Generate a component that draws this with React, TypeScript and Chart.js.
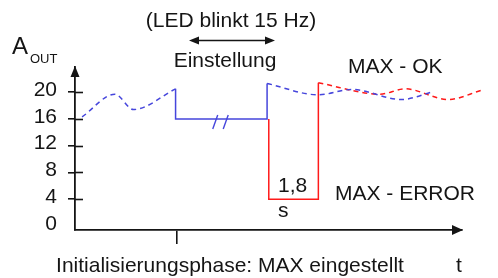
import { useEffect, useRef } from "react";
import { Chart, registerables } from "chart.js";

Chart.register(...registerables);

// ---- data (time in s, amplitude A_OUT) ----
const yTickValues = [0, 4, 8, 12, 16, 20];
const xTickValues = [3.6];

const blueDashA_t = [0.25, 1.41, 2.06, 3.55];
const blueDashA_y = [16.3, 19.7, 17.4, 20.5];

const blueSolid_t = [3.55, 3.55, 6.78, 6.78];
const blueSolid_y = [20.5, 16, 16, 21.3];

const blueDashB_t = [6.78, 8.59, 9.77, 11.53, 12.59];
const blueDashB_y = [21.3, 19.6, 20.4, 18.9, 20.0];

const redSolid_t = [6.84, 6.84, 8.59, 8.59];
const redSolid_y = [16, 4, 4, 21.4];

const redDash_t = [8.59, 10.77, 11.65, 13.17, 14.36];
const redDash_y = [21.4, 19.7, 20.5, 18.9, 20.3];

const breakMarks_t = [4.95, 5.32];
const breakMarks_y = 16;

const BLUE = "#4646dc";
const RED = "#ff1a1a";
const INK = "#151515";
const FONT = '"Liberation Sans", Arial, sans-serif';

const pts = (t: number[], y: number[]) => t.map((v, i) => ({ x: v, y: y[i] }));

const annotPlugin = {
  id: "annot",
  afterDraw(chart: any) {
    const ctx: CanvasRenderingContext2D = chart.ctx;
    const xs = chart.scales.x;
    const ys = chart.scales.y;
    const area = chart.chartArea;
    ctx.save();
    ctx.strokeStyle = INK;
    ctx.fillStyle = INK;
    ctx.lineWidth = 1.6;

    // inner part of y tick marks
    yTickValues.forEach((v) => {
      if (v === 0) return;
      const py = Math.round(ys.getPixelForValue(v)) + 0.5;
      ctx.beginPath();
      ctx.moveTo(area.left, py);
      ctx.lineTo(area.left + 8, py);
      ctx.stroke();
    });

    // y-axis arrow
    ctx.beginPath();
    ctx.moveTo(area.left, area.top - 1);
    ctx.lineTo(area.left - 4.5, area.top + 10);
    ctx.lineTo(area.left + 4.5, area.top + 10);
    ctx.closePath();
    ctx.fill();

    // x-axis arrow
    ctx.beginPath();
    ctx.moveTo(area.right + 1, area.bottom);
    ctx.lineTo(area.right - 10, area.bottom - 5);
    ctx.lineTo(area.right - 10, area.bottom + 5);
    ctx.closePath();
    ctx.fill();

    // break marks on the blue line
    ctx.strokeStyle = BLUE;
    ctx.lineWidth = 1.4;
    breakMarks_t.forEach((t) => {
      const px = xs.getPixelForValue(t);
      const py = ys.getPixelForValue(breakMarks_y);
      ctx.beginPath();
      ctx.moveTo(px - 2.5, py + 10);
      ctx.lineTo(px + 2.5, py - 4);
      ctx.stroke();
    });

    // double arrow "Einstellung"
    ctx.strokeStyle = INK;
    ctx.fillStyle = INK;
    ctx.lineWidth = 1.4;
    const ay = 40.5;
    const ax1 = 189;
    const ax2 = 275;
    ctx.beginPath();
    ctx.moveTo(ax1 + 6, ay);
    ctx.lineTo(ax2 - 6, ay);
    ctx.stroke();
    ctx.beginPath();
    ctx.moveTo(ax1, ay);
    ctx.lineTo(ax1 + 10, ay - 4);
    ctx.lineTo(ax1 + 10, ay + 4);
    ctx.closePath();
    ctx.fill();
    ctx.beginPath();
    ctx.moveTo(ax2, ay);
    ctx.lineTo(ax2 - 10, ay - 4);
    ctx.lineTo(ax2 - 10, ay + 4);
    ctx.closePath();
    ctx.fill();

    // texts
    ctx.textBaseline = "alphabetic";
    const txt = (s: string, x: number, y: number, size: number, align: CanvasTextAlign = "left") => {
      ctx.font = `${size}px ${FONT}`;
      ctx.textAlign = align;
      ctx.fillText(s, x, y);
    };
    txt("(LED blinkt 15 Hz)", 231, 26.5, 21, "center");
    txt("Einstellung", 225, 66.5, 21, "center");
    txt("MAX - OK", 348, 73, 21);
    txt("MAX - ERROR", 335, 200, 21);
    txt("1,8", 278, 191.5, 21);
    txt("s", 278, 217, 21);
    txt("A", 12, 53.5, 24);
    txt("OUT", 30, 63, 13);
    txt("Initialisierungsphase: MAX eingestellt", 230, 271.5, 21, "center");
    txt("t", 456, 271.5, 21);
    ctx.restore();
  },
};

export default function App() {
  const ref = useRef<HTMLCanvasElement | null>(null);
  useEffect(() => {
    if (!ref.current) return;
    const dashed = (data: any, color: string) => ({
      data,
      borderColor: color,
      borderWidth: 1.5,
      borderDash: [5, 4],
      pointRadius: 0,
      showLine: true,
      cubicInterpolationMode: "monotone",
      clip: false,
    });
    const solid = (data: any, color: string) => ({
      data,
      borderColor: color,
      borderWidth: 1.5,
      pointRadius: 0,
      showLine: true,
      tension: 0,
      clip: false,
    });
    const chart = new Chart(ref.current, {
      type: "scatter",
      data: {
        datasets: [
          dashed(pts(blueDashA_t, blueDashA_y), BLUE),
          solid(pts(blueSolid_t, blueSolid_y), BLUE),
          dashed(pts(blueDashB_t, blueDashB_y), BLUE),
          solid(pts(redSolid_t, redSolid_y), RED),
          dashed(pts(redDash_t, redDash_y), RED),
        ] as any,
      },
      options: {
        responsive: false,
        animation: false,
        devicePixelRatio: 1,
        layout: { padding: { left: 15, right: 36, top: 67, bottom: 34 } },
        plugins: { legend: { display: false }, tooltip: { enabled: false }, title: { display: false } },
        scales: {
          x: {
            type: "linear",
            min: 0,
            max: 13.66,
            afterBuildTicks: (s: any) => {
              s.ticks = xTickValues.map((v) => ({ value: v }));
            },
            ticks: { display: false },
            grid: { drawOnChartArea: false, drawTicks: true, tickLength: 14, color: INK, lineWidth: 1.6 },
            border: { display: true, color: INK, width: 1.8 },
          },
          y: {
            type: "linear",
            min: -0.6,
            max: 23.76,
            afterBuildTicks: (s: any) => {
              s.ticks = yTickValues.map((v) => ({ value: v }));
            },
            afterFit: (s: any) => {
              s.width = 60;
            },
            ticks: {
              color: INK,
              padding: 11,
              labelOffset: -2,
              font: { size: 21, family: FONT },
            },
            grid: {
              drawOnChartArea: false,
              drawTicks: true,
              tickLength: 7,
              lineWidth: 1.6,
              color: (c: any) => (c.tick && c.tick.value === 0 ? "rgba(0,0,0,0)" : INK),
            },
            border: { display: true, color: INK, width: 1.8 },
          },
        },
      } as any,
      plugins: [annotPlugin],
    });
    return () => chart.destroy();
  }, []);
  return (
    <div style={{ position: "absolute", left: 0, top: 0, width: 498, height: 278, background: "#fff" }}>
      <canvas ref={ref} width={498} height={278} style={{ display: "block" }} />
    </div>
  );
}
